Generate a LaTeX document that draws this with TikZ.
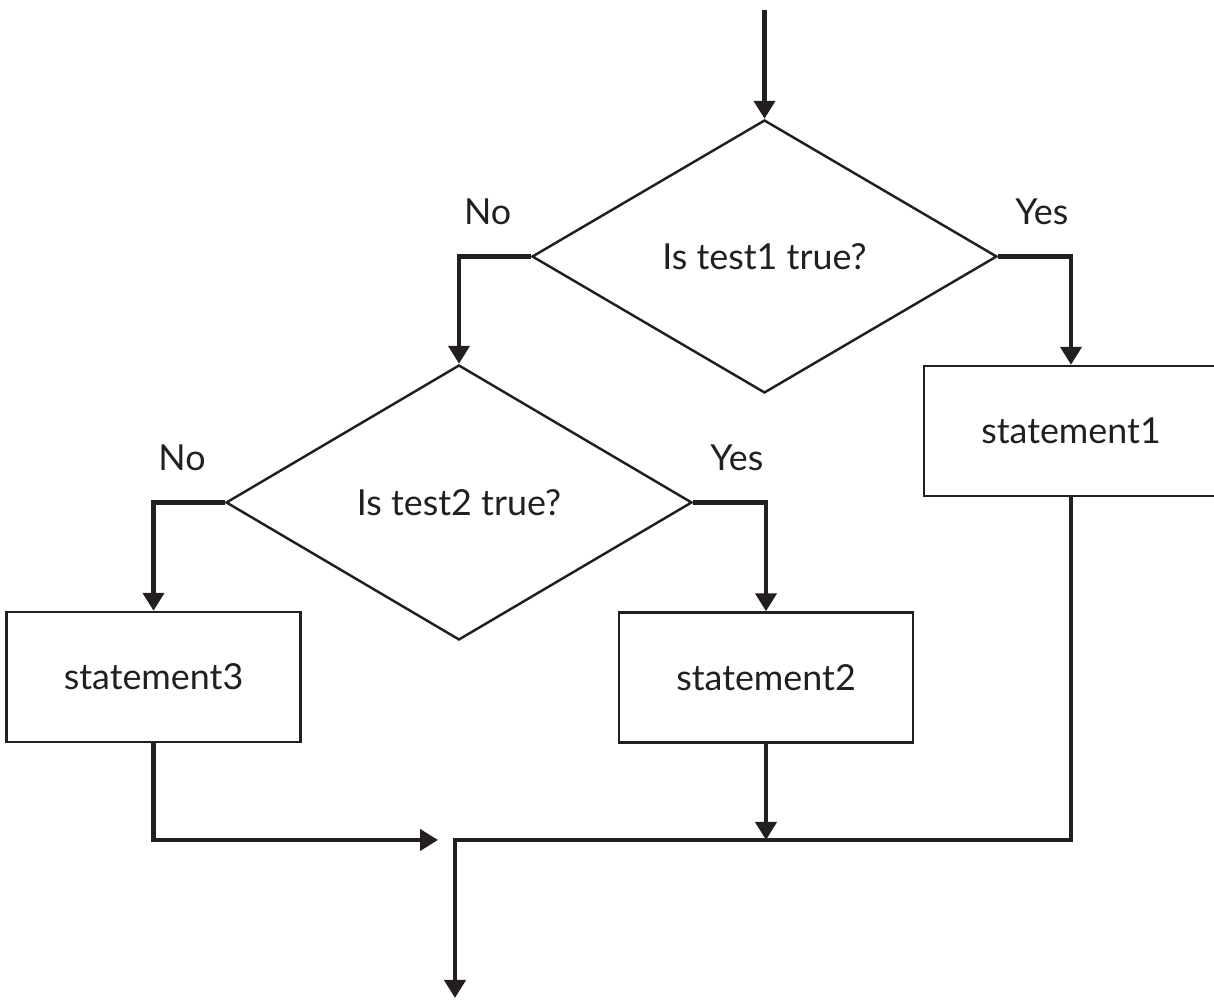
\documentclass[tikz,border=0pt]{standalone}
\usepackage{fontspec}
\setmainfont{Lato}
\usetikzlibrary{shapes.geometric,arrows.meta}
\definecolor{ink}{HTML}{231F20}
\begin{document}
\begin{tikzpicture}[
			decision/.style={diamond, draw=ink, line width=0.7pt, inner sep=0pt, text=ink},
			stmtbox/.style={rectangle, draw=ink, line width=0.7pt, minimum width=2.94cm, minimum height=1.3cm, text=ink},
			flow/.style={draw=ink, line width=1.2pt, -{Triangle[length=0.18cm, width=0.21cm]}},
			lbl/.style={pos=0.3, above=0.3cm, inner sep=0pt, text=ink},
			every node/.style={font=\fontsize{10.2}{12}\selectfont}
		]
		\path[use as bounding box, clip] (0,0) rectangle (12.14,-10);
		% decisions
		\node[decision, minimum width=4.65cm, minimum height=2.73cm] (dia1) at (7.645,-2.565) {Is test1 true?};
		\node[decision, minimum width=4.66cm, minimum height=2.75cm] (dia2) at (4.59,-5.025) {Is test2 true?};
		% statements
		\node[stmtbox] (s1) at (10.71,-4.31) {statement1};
		\node[stmtbox] (s2) at (7.66,-6.775) {statement2};
		\node[stmtbox] (s3) at (1.535,-6.77) {statement3};
		% free ends
		\coordinate (start) at (7.645,-0.1);
		\coordinate (join) at (4.55,-8.4);
		\coordinate (joinin) at (4.38,-8.4);
		\coordinate (exit) at (4.55,-9.98);
		% connectors
		\draw[flow] (start) -- (dia1.north);
		\draw[flow] (dia1.west) -| node[lbl] {No} (dia2.north);
		\draw[flow] (dia1.east) -| node[lbl] {Yes} (s1.north);
		\draw[flow] (dia2.west) -| node[lbl] {No} (s3.north);
		\draw[flow] (dia2.east) -| node[lbl] {Yes} (s2.north);
		\draw[flow] (s3.south) |- (joinin);
		\draw[flow] (s2.south) -- (s2.south |- join);
		\draw[flow] (s1.south) |- (join) -- (exit);
	\end{tikzpicture}
\end{document}
